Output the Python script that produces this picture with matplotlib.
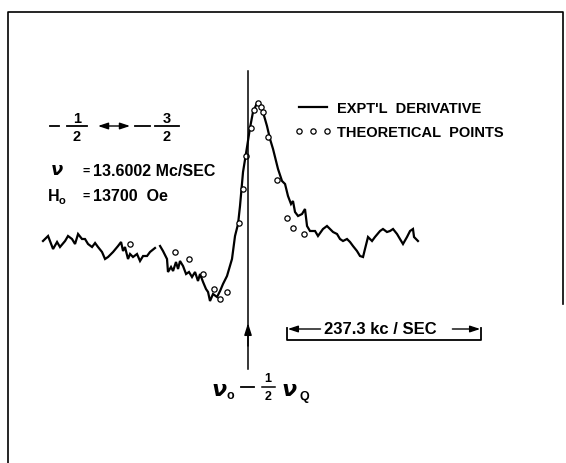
import matplotlib

matplotlib.use("Agg")
import matplotlib.pyplot as plt
import numpy as np

# frequency offset from nu0 - nuQ/2 (kc/sec) and derivative signal (arb. units)
expt_freq = [-250.8, -244.6, -238.5, -233.6, -230.0, -223.8, -220.2, -215.3, -211.6, -207.9,
             -203.1, -199.4, -195.7, -190.8, -187.1, -183.5, -178.6, -174.9, -171.2, -165.1,
             -159.0, -155.3, -152.9, -150.5, -146.8, -144.3, -140.7, -135.8, -132.1, -128.4,
             -123.5, -119.9, -113.8, np.nan,
             -107.6, -104.0, -99.1, -97.9, -94.2, -91.7, -88.1, -85.6, -83.2, -79.5,
             -75.8, -72.2, -68.5, -64.8, -61.2, -58.7, -55.0, -51.4, -48.9, -46.5,
             -42.8, -37.9, -34.2, -30.6, -25.7, -19.6, -15.9, -12.2, -9.8, -6.1,
             -1.2, 2.4, 6.1, 11.0, 14.7, 18.3, 23.2, 26.9, 30.6, 36.7,
             41.6, 45.3, 48.9, 52.6, 55.0, 57.5, 61.2, 66.1, 69.7, 72.2,
             75.8, 82.0, 85.6, 91.7, 96.6, 100.3, 104.0, 108.9, 112.5, 116.2,
             121.1, 124.8, 128.4, 133.3, 137.0, 140.7, 143.1, 146.8, 151.7, 155.3,
             161.5, 165.1, 170.0, 173.7, 177.4, 182.3, 185.9, 189.6, 194.5, 198.2,
             201.8, 203.1, 207.9]
expt_signal = [0.0, 0.5, -0.8, -0.1, -0.6, 0.0, 0.5, 0.2, -0.3, 0.7,
               0.2, 0.2, -0.3, -0.6, -0.2, -0.6, -1.1, -1.8, -1.6, -1.1,
               -0.5, -0.1, -1.0, -0.6, -1.8, -1.3, -1.6, -1.3, -2.0, -1.5,
               -1.5, -1.1, -0.7, np.nan,
               -0.5, -1.0, -1.8, -3.1, -2.6, -3.0, -2.1, -2.8, -2.0, -2.5,
               -3.3, -3.1, -3.6, -3.1, -4.0, -3.3, -4.1, -4.8, -5.1, -6.0,
               -5.3, -5.6, -5.0, -4.3, -3.5, -1.8, 0.5, 1.7, 3.5, 6.9,
               9.4, 11.3, 12.9, 13.8, 13.7, 12.9, 11.5, 10.2, 9.2, 7.2,
               6.0, 5.7, 4.5, 3.7, 4.0, 2.9, 2.5, 2.7, 3.2, 1.5,
               1.0, 1.0, 0.5, 1.2, 1.5, 1.2, 0.9, 0.7, 0.2, 0.0,
               0.2, -0.1, -0.5, -1.0, -1.5, -1.6, -0.8, 0.4, 0.0, 0.4,
               1.0, 1.2, 0.9, 1.0, 1.2, 0.7, 0.2, -0.3, 0.4, 1.0,
               1.2, 0.4, 0.0]

theory_freq = [-144.3, -89.3, -72.2, -55.0, -41.6, -34.2, -25.7, -11.0, -6.1, -2.4,
               3.7, 7.3, 12.2, 15.9, 18.3, 24.5, 35.5, 47.7, 55.0, 68.5]
theory_signal = [-0.3, -1.1, -1.8, -3.3, -4.8, -5.8, -5.1, 1.8, 5.2, 8.5,
                 11.3, 13.1, 13.8, 13.4, 12.9, 10.4, 6.1, 2.3, 1.3, 0.7]

center_freq = 0.0        # nu0 - nuQ/2
scale_span = 237.3       # kc/sec
scale_start = 47.7
nu_rf = "13.6002"
h0 = "13700"

W, H = 566, 464
FONT = "Liberation Sans"


def fx(px):
    return px / W


def fy(py):
    return 1 - py / H


def put(px, py, s, size=10.5, ha="left", **kw):
    fig.text(fx(px), fy(py), s, ha=ha, va="center", fontsize=size,
             family=FONT, weight="bold", **kw)


def bar(x0, x1, py, lw=1.3):
    ax.plot([fx(x0), fx(x1)], [fy(py), fy(py)], color="k", lw=lw,
            transform=fig.transFigure, clip_on=False)


fig = plt.figure(figsize=(W / 100, H / 100), dpi=100)
ax = fig.add_axes([0, 0, 1, 1])
ax.set_xlim(-303.4, 389.0)
ax.set_ylim(-22.2, 24.2)
ax.axis("off")

# frame (open at bottom)
ax.plot([fx(8), fx(8), fx(563), fx(563)], [0, fy(13), fy(13), fy(305)],
        color="k", lw=1.2, transform=fig.transFigure, clip_on=False)

expt, = ax.plot(expt_freq, expt_signal, color="k", lw=1.6, solid_joinstyle="miter")
theo, = ax.plot(theory_freq, theory_signal, ls="none", marker="o", ms=3.8,
                mfc="white", mec="k", mew=0.9)

# line marking nu0 - nuQ/2 with arrow
ax.plot([center_freq, center_freq], [17.0, -12.8], color="k", lw=1.1)
ax.annotate("", xy=(center_freq, -8.2), xytext=(center_freq, -10.5),
            arrowprops=dict(arrowstyle="-|>,head_length=0.7,head_width=0.22",
                            color="k", lw=1.1, shrinkA=0, shrinkB=0))

# scale bar
x0, x1 = scale_start, scale_start + scale_span
ax.plot([x0, x0, x1, x1], [-8.7, -9.9, -9.9, -8.7], color="k", lw=1.3)
ax.annotate("", xy=(x0 + 1, -8.8), xytext=(x0 + 41, -8.8),
            arrowprops=dict(arrowstyle="-|>,head_length=0.6,head_width=0.2",
                            color="k", lw=1.0, shrinkA=0, shrinkB=0))
ax.annotate("", xy=(x1 - 1, -8.8), xytext=(x1 - 35, -8.8),
            arrowprops=dict(arrowstyle="-|>,head_length=0.6,head_width=0.2",
                            color="k", lw=1.0, shrinkA=0, shrinkB=0))
ax.text(x0 + 0.48 * scale_span, -8.8, f"{scale_span} kc / SEC", ha="center",
        va="center", fontsize=12, family=FONT, weight="bold")

# legend
ax.legend([expt, theo], ["EXPT'L  DERIVATIVE", "THEORETICAL  POINTS"],
          numpoints=3, frameon=False, loc="upper left",
          bbox_to_anchor=(fx(294.5), fy(102)), bbox_transform=fig.transFigure,
          borderaxespad=0, borderpad=0, handlelength=2.5, handletextpad=0.4,
          labelspacing=0.7, prop=dict(family=FONT, weight="bold", size=10.5))

# transition label  -1/2 <-> -3/2
bar(50, 59, 127)
put(77, 119, "1", ha="center")
bar(67, 87, 127)
put(77, 137, "2", ha="center")
ax.annotate("", xy=(fx(98), fy(127)), xytext=(fx(130), fy(127)),
            xycoords=fig.transFigure, textcoords=fig.transFigure,
            arrowprops=dict(arrowstyle="<|-|>,head_length=0.6,head_width=0.2",
                            color="k", lw=1.0, shrinkA=0, shrinkB=0))
bar(135, 150, 127)
put(167, 119, "3", ha="center")
bar(155, 179, 127)
put(167, 137, "2", ha="center")

# conditions
put(57, 171, r"$\boldsymbol{\nu}$", size=13, ha="center")
put(86, 172, "=", size=9, ha="center")
put(93, 172, f"{nu_rf} Mc/SEC", size=11.5)
put(48, 197, "H", size=11.5)
put(59, 201, "o", size=8)
put(86, 197, "=", size=9, ha="center")
put(93, 197, f"{h0}  Oe", size=11.5)

# bottom label nu0 - 1/2 nuQ
put(219, 390, r"$\boldsymbol{\nu}$", size=16, ha="center")
put(230, 396, "o", size=9, ha="center")
bar(241, 254, 388)
put(268, 379, "1", size=9, ha="center")
bar(262, 275, 388, lw=1.1)
put(268, 397, "2", size=9, ha="center")
put(289, 390, r"$\boldsymbol{\nu}$", size=16, ha="center")
put(304, 397, "Q", size=9, ha="center")

fig.savefig("out.png", dpi=100, facecolor="white")
